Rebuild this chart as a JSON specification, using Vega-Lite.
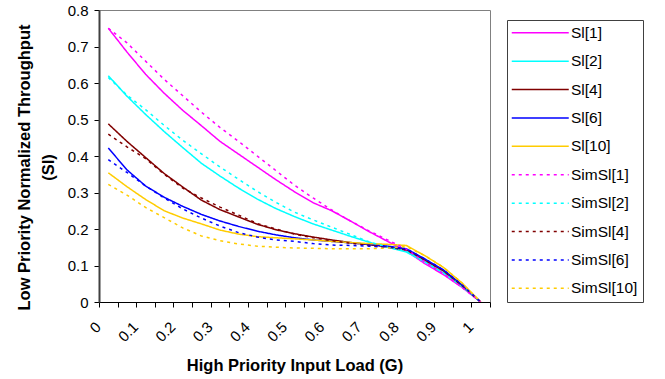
{
"$schema":"https://vega.github.io/schema/vega-lite/v6.json",
"width":391,"height":292,
"autosize":{"type":"none"},
"padding":{"left":99,"top":10,"right":175,"bottom":77},
"config":{"font":"Liberation Sans","view":{"stroke":"#808080","strokeWidth":1},
 "axis":{"grid":false,"labelColor":"#000","titleColor":"#000","tickColor":"#000","domainColor":"#000","labelFont":"Liberation Sans","titleFont":"Liberation Sans"}},
"datasets":{"w":[
{"G":0,"a":0.75,"b":0.62,"c":0.488,"d":0.422,"e":0.354,"f":0.75,"g":0.615,"h":0.46,"i":0.39,"j":0.322},
{"G":0.05,"a":0.685,"b":0.564,"c":0.44,"d":0.362,"e":0.316,"f":0.71,"g":0.567,"h":0.425,"i":0.355,"j":0.293},
{"G":0.1,"a":0.624,"b":0.514,"c":0.396,"d":0.318,"e":0.281,"f":0.66,"g":0.527,"h":0.393,"i":0.318,"j":0.259},
{"G":0.15,"a":0.572,"b":0.467,"c":0.352,"d":0.287,"e":0.25,"f":0.61,"g":0.484,"h":0.35,"i":0.285,"j":0.231},
{"G":0.2,"a":0.525,"b":0.423,"c":0.315,"d":0.262,"e":0.23,"f":0.565,"g":0.443,"h":0.312,"i":0.255,"j":0.203},
{"G":0.25,"a":0.483,"b":0.38,"c":0.279,"d":0.24,"e":0.214,"f":0.52,"g":0.406,"h":0.285,"i":0.23,"j":0.181},
{"G":0.3,"a":0.44,"b":0.345,"c":0.253,"d":0.222,"e":0.197,"f":0.478,"g":0.37,"h":0.26,"i":0.208,"j":0.168},
{"G":0.35,"a":0.405,"b":0.312,"c":0.233,"d":0.207,"e":0.186,"f":0.44,"g":0.336,"h":0.238,"i":0.19,"j":0.159},
{"G":0.4,"a":0.37,"b":0.282,"c":0.213,"d":0.194,"e":0.179,"f":0.4,"g":0.303,"h":0.215,"i":0.178,"j":0.153},
{"G":0.45,"a":0.335,"b":0.256,"c":0.198,"d":0.184,"e":0.176,"f":0.36,"g":0.273,"h":0.2,"i":0.17,"j":0.15},
{"G":0.5,"a":0.302,"b":0.234,"c":0.187,"d":0.176,"e":0.173,"f":0.32,"g":0.246,"h":0.186,"i":0.166,"j":0.148},
{"G":0.55,"a":0.272,"b":0.214,"c":0.178,"d":0.17,"e":0.17,"f":0.285,"g":0.225,"h":0.176,"i":0.16,"j":0.147},
{"G":0.6,"a":0.25,"b":0.197,"c":0.17,"d":0.166,"e":0.166,"f":0.252,"g":0.205,"h":0.168,"i":0.156,"j":0.146},
{"G":0.65,"a":0.222,"b":0.18,"c":0.163,"d":0.162,"e":0.163,"f":0.222,"g":0.185,"h":0.161,"i":0.155,"j":0.146},
{"G":0.7,"a":0.193,"b":0.164,"c":0.157,"d":0.158,"e":0.16,"f":0.195,"g":0.165,"h":0.155,"i":0.153,"j":0.146},
{"G":0.75,"a":0.166,"b":0.15,"c":0.151,"d":0.153,"e":0.158,"f":0.17,"g":0.15,"h":0.15,"i":0.15,"j":0.148},
{"G":0.8,"a":0.14,"b":0.137,"c":0.143,"d":0.146,"e":0.155,"f":0.145,"g":0.14,"h":0.143,"i":0.146,"j":0.152},
{"G":0.85,"a":0.105,"b":0.11,"c":0.115,"d":0.118,"e":0.127,"f":0.11,"g":0.11,"h":0.115,"i":0.118,"j":0.127},
{"G":0.9,"a":0.075,"b":0.08,"c":0.085,"d":0.088,"e":0.095,"f":0.078,"g":0.08,"h":0.085,"i":0.088,"j":0.095},
{"G":0.95,"a":0.04,"b":0.043,"c":0.045,"d":0.047,"e":0.052,"f":0.04,"g":0.043,"h":0.045,"i":0.047,"j":0.052},
{"G":1,"a":0,"b":0,"c":0,"d":0,"e":0,"f":0,"g":0,"h":0,"i":0,"j":0}
],
"names":[
{"k":"a","series":"Sl[1]"},{"k":"b","series":"Sl[2]"},{"k":"c","series":"Sl[4]"},{"k":"d","series":"Sl[6]"},{"k":"e","series":"Sl[10]"},
{"k":"f","series":"SimSl[1]"},{"k":"g","series":"SimSl[2]"},{"k":"h","series":"SimSl[4]"},{"k":"i","series":"SimSl[6]"},{"k":"j","series":"SimSl[10]"}
]},
"data":{"name":"w"},
"transform":[
 {"fold":["a","b","c","d","e","f","g","h","i","j"],"as":["k","v"]},
 {"lookup":"k","from":{"data":{"name":"names"},"key":"k","fields":["series"]}}
],
"mark":{"type":"line","clip":true},
"encoding":{
 "x":{"field":"G","type":"quantitative","scale":{"domain":[-0.025,1.025],"nice":false,"zero":false},
  "axis":{"values":[-0.025,0.025,0.075,0.125,0.175,0.225,0.275,0.325,0.375,0.425,0.475,0.525,0.575,0.625,0.675,0.725,0.775,0.825,0.875,0.925,0.975,1.025],
   "labelExpr":"round((datum.value+0.025)*20) % 2 == 0 ? format(round((datum.value+0.025)*20)/20, '.1~f') : ''",
   "labelAngle":-45,"labelFontSize":15,"labelOverlap":false,"labelFlush":false,"labelOffset":-6,"labelPadding":12,
   "tickSize":5,"domainWidth":1,
   "title":"High Priority Input Load (G)","titleFontSize":16.5,"titleFontWeight":"bold","titlePadding":13}},
 "y":{"field":"v","type":"quantitative","scale":{"domain":[0,0.8],"nice":false},
  "axis":{"values":[0,0.1,0.2,0.3,0.4,0.5,0.6,0.7,0.8],"format":".1~f","labelFontSize":15,"labelPadding":6,"tickSize":5,
   "domainWidth":2,"domainColor":"#404040",
   "title":["Low Priority Normalized Throughput","(Sl)"],"titleFontSize":16.5,"titleFontWeight":"bold","titleLineHeight":24,"titlePadding":11,"titleY":157}},
 "color":{"field":"series","type":"nominal",
  "scale":{"domain":["Sl[1]","Sl[2]","Sl[4]","Sl[6]","Sl[10]","SimSl[1]","SimSl[2]","SimSl[4]","SimSl[6]","SimSl[10]"],
   "range":["#FF00FF","#00FFFF","#800000","#0000FF","#FFCC00","#FF00FF","#00FFFF","#800000","#0000FF","#FFCC00"]},
  "legend":{"orient":"none","legendX":408,"legendY":10,"title":null,"symbolType":"M-4.75,0H4.75","symbolSize":144,
   "labelFontSize":15.5,"labelFont":"Liberation Sans","labelColor":"#000","rowPadding":11.4,"padding":5,"strokeColor":"#404040",
   "symbolOffset":20.5,"labelOffset":23}},
 "strokeDash":{"field":"series","type":"nominal",
  "scale":{"domain":["Sl[1]","Sl[2]","Sl[4]","Sl[6]","Sl[10]","SimSl[1]","SimSl[2]","SimSl[4]","SimSl[6]","SimSl[10]"],
   "range":[[1,0],[1,0],[1,0],[1,0],[1,0],[3,4],[3,4],[3,4],[3,4],[3,4]]}},
 "strokeWidth":{"field":"series","type":"nominal",
  "scale":{"domain":["Sl[1]","Sl[2]","Sl[4]","Sl[6]","Sl[10]","SimSl[1]","SimSl[2]","SimSl[4]","SimSl[6]","SimSl[10]"],
   "range":[1.5,1.5,1.5,1.5,1.5,2,2,2,2,2]}}
}
}
